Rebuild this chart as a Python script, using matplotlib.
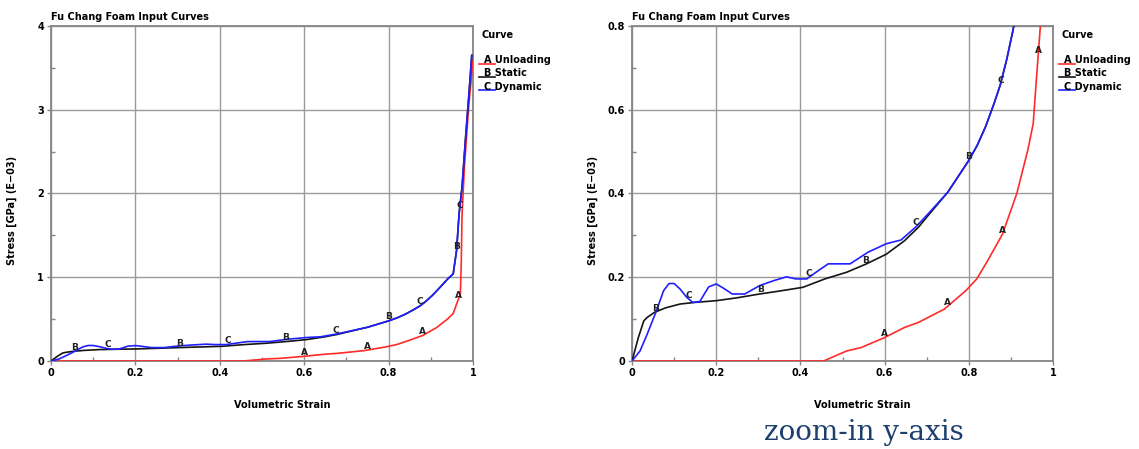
#Fu Chang foam input curves, full view and zoomed y-axis

import numpy as np
import matplotlib.pyplot as plt
from matplotlib.ticker import MultipleLocator
from matplotlib.lines import Line2D

#Curve A - Unloading (volumetric strain, stress [GPa] E-03)
unload_x = [0.0, 0.455, 0.51, 0.544, 0.60, 0.647, 0.68, 0.742, 0.793, 0.819, 0.845, 0.88,
            0.914, 0.94, 0.953, 0.961, 0.97, 0.972, 0.974, 0.98, 0.99, 1.0]
unload_y = [0.0, 0.0, 0.024, 0.032, 0.056, 0.08, 0.092, 0.124, 0.168, 0.196, 0.24, 0.303,
            0.40, 0.503, 0.567, 0.679, 0.80, 1.15, 1.75, 2.35, 3.05, 3.6]

#Curve B - Static
static_x = [0.0, 0.015, 0.028, 0.036, 0.053, 0.08, 0.114, 0.15, 0.2, 0.25, 0.303, 0.35, 0.406,
            0.458, 0.51, 0.557, 0.604, 0.647, 0.68, 0.703, 0.75, 0.80, 0.82, 0.84, 0.86,
            0.875, 0.89, 0.905, 0.92, 0.94, 0.953, 0.961, 0.967, 0.974, 0.983, 0.991, 0.997]
static_y = [0.0, 0.056, 0.096, 0.104, 0.116, 0.127, 0.136, 0.14, 0.144, 0.151, 0.16, 0.167, 0.176,
            0.196, 0.212, 0.232, 0.255, 0.287, 0.319, 0.347, 0.403, 0.479, 0.515, 0.56, 0.615,
            0.66, 0.72, 0.79, 0.87, 0.98, 1.04, 1.32, 1.76, 2.08, 2.71, 3.23, 3.65]

#Curve C - Dynamic
dyn_x = [0.0, 0.019, 0.036, 0.058, 0.075, 0.088, 0.1, 0.114, 0.13, 0.144, 0.161, 0.182, 0.2,
         0.217, 0.238, 0.268, 0.303, 0.337, 0.367, 0.389, 0.415, 0.44, 0.466, 0.518, 0.561,
         0.604, 0.639, 0.673, 0.703, 0.75, 0.80, 0.82, 0.84, 0.86, 0.875, 0.89, 0.905, 0.92,
         0.94, 0.953, 0.961, 0.967, 0.974, 0.983, 0.991, 0.997]
dyn_y = [0.0, 0.024, 0.064, 0.12, 0.168, 0.185, 0.185, 0.172, 0.152, 0.14, 0.142, 0.177, 0.184,
         0.174, 0.16, 0.16, 0.18, 0.192, 0.201, 0.196, 0.196, 0.214, 0.232, 0.232, 0.26,
         0.28, 0.289, 0.319, 0.351, 0.403, 0.479, 0.515, 0.56, 0.615, 0.66, 0.72, 0.79, 0.87,
         0.98, 1.04, 1.32, 1.76, 2.08, 2.71, 3.23, 3.65]

#Where the curve letters sit along each curve
label_A = [0.6, 0.75, 0.88, 0.965]
label_B = [0.055, 0.305, 0.555, 0.8, 0.961]
label_C = [0.135, 0.42, 0.675, 0.875, 0.968]

legend_names = ["A Unloading", "B Static", "C Dynamic"]
x_ticks = [0, 0.2, 0.4, 0.6, 0.8, 1]
x_ticklabels = ["0", "0.2", "0.4", "0.6", "0.8", "1"]
y_ticks_full = [0, 1, 2, 3, 4]
y_ticklabels_full = ["0", "1", "2", "3", "4"]
y_ticks_zoom = [0, 0.2, 0.4, 0.6, 0.8]
y_ticklabels_zoom = ["0", "0.2", "0.4", "0.6", "0.8"]

red = "#ff2a2a"
blue = "#2020ff"
black = "#151515"
grid_c = "#9a9a9a"
spine_c = "#858585"
font = dict(family="DejaVu Sans", weight="bold", size=7)

fig = plt.figure(figsize=(11.39, 4.49), dpi=100)
ax1 = fig.add_axes([0.0448, 0.196, 0.3705, 0.7461])
ax2 = fig.add_axes([0.5549, 0.196, 0.3696, 0.7461])


def draw_panel(ax, ymax, yticks, yticklabels, yminor):
    ax.plot(unload_x, unload_y, color=red, lw=1.2, zorder=3)
    ax.plot(static_x, static_y, color=black, lw=1.2, zorder=4)
    ax.plot(dyn_x, dyn_y, color=blue, lw=1.2, zorder=5)

    #Curve letters (only those inside the view)
    for letter, xs, cx, cy in [("A", label_A, unload_x, unload_y), ("B", label_B, static_x, static_y),
                               ("C", label_C, dyn_x, dyn_y)]:
        for lx in xs:
            ly = np.interp(lx, cx, cy)
            if ly > ymax * 0.95:
                continue
            ax.text(lx, ly + ymax * 0.012, letter, ha="center", va="center", color="#222222",
                    fontdict=dict(family="DejaVu Sans", weight="bold", size=6.5), zorder=6)

    ax.set_xlim(0, 1)
    ax.set_ylim(0, ymax)
    ax.set_xticks(x_ticks)
    ax.set_xticklabels(x_ticklabels, fontdict=font)
    ax.set_yticks(yticks)
    ax.set_yticklabels(yticklabels, fontdict=font)
    ax.xaxis.set_minor_locator(MultipleLocator(0.1))
    ax.yaxis.set_minor_locator(MultipleLocator(yminor))
    ax.tick_params(which="major", direction="out", length=3, width=1, color=spine_c, pad=2)
    ax.tick_params(which="minor", direction="in", length=3, width=1, color=spine_c)
    ax.grid(True, which="major", color=grid_c, lw=1)
    ax.set_axisbelow(True)
    for s in ax.spines.values():
        s.set_color(spine_c)
        s.set_linewidth(1.3)

    ax.text(0.0, 1.012, "Fu Chang Foam Input Curves", transform=ax.transAxes, ha="left",
            va="bottom", fontdict=font)
    ax.set_xlabel("Volumetric Strain", fontdict=font)
    ax.xaxis.set_label_coords(0.548, -0.116)
    ax.set_ylabel("Stress [GPa] (E\u221203)", fontdict=font)
    ax.yaxis.set_label_coords(-0.081, 0.45)

    #Legend: title and letters with coloured underline
    ax.text(1.019, 0.973, "Curve", transform=ax.transAxes, ha="left", va="center", fontdict=font)
    for i, (name, c) in enumerate(zip(legend_names, [red, black, blue])):
        yy = 0.898 - i * 0.0395
        ax.text(1.026, yy, name, transform=ax.transAxes, ha="left", va="center", fontdict=font)
        ax.add_line(Line2D([1.014, 1.052], [yy - 0.011, yy - 0.011], transform=ax.transAxes,
                           color=c, lw=1.2, clip_on=False))


draw_panel(ax1, 4, y_ticks_full, y_ticklabels_full, 0.5)
draw_panel(ax2, 0.8, y_ticks_zoom, y_ticklabels_zoom, 0.1)

fig.text(0.7585, 0.02, "zoom-in y-axis", family="DejaVu Serif", size=20, color="#1d3f6e",
         ha="center", va="baseline")

fig.savefig("out.png", dpi=100)
